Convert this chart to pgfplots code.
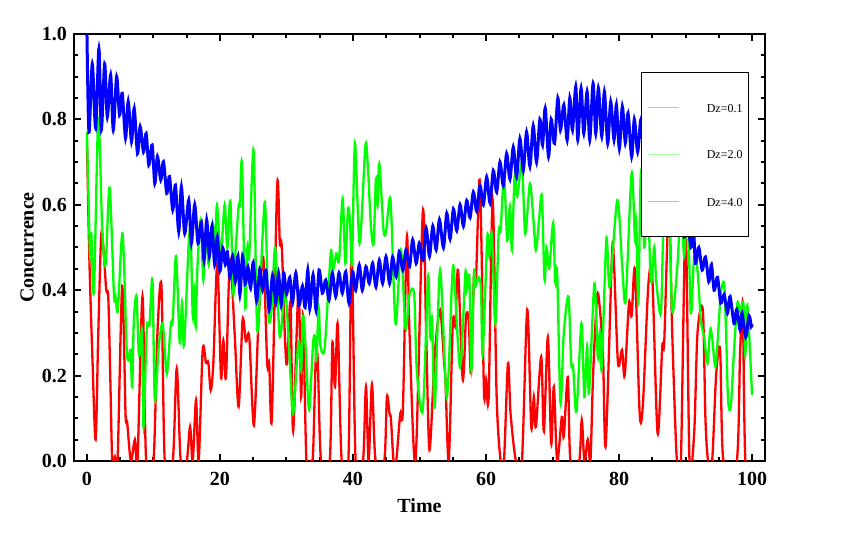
\documentclass[border=0pt]{standalone}
\usepackage{fontspec}
\setmainfont{Liberation Serif}
\usepackage{pgfplots}
\pgfplotsset{compat=1.18}

\begin{document}
\begin{tikzpicture}
% page size of the reference, 1px = 0.5pt, plot box lower left at origin
\path[use as bounding box] (-37pt,-36.5pt) rectangle (389pt,230.5pt);
\begin{axis}[
    at={(0pt,0pt)}, anchor=south west,
    scale only axis, width=345.5pt, height=213.5pt,
    xmin=-1.95, xmax=101.95, ymin=0, ymax=1,
    xtick={0,20,40,60,80,100},
    ytick={0,0.2,0.4,0.6,0.8,1.0},
    yticklabels={0.0,0.2,0.4,0.6,0.8,1.0},
    minor x tick num=3, minor y tick num=3,
    tick align=inside,
    major tick length=3.5pt, minor tick length=2.2pt,
    every tick/.style={black, line width=1pt},
    axis line style={line width=1.2pt},
    /pgf/number format/assume math mode=true,
    tick label style={font=\fontsize{10}{12}\selectfont\bfseries},
    xticklabel style={yshift=-2.2pt},
    xlabel={\textbf{Time}}, ylabel={\textbf{Concurrence}},
    label style={font=\fontsize{10}{12}\selectfont},
    xlabel style={at={(axis description cs:0.5,-0.1054)}, anchor=center},
    ylabel style={at={(axis description cs:-0.068,0.5)}, anchor=center},
    legend style={at={(0.8205,0.911)}, anchor=north west,
        draw=black, line width=0.6pt, fill=white,
        font=\fontsize{6}{7}\selectfont,
        inner xsep=3pt, inner ysep=15.3pt, row sep=19.1pt,
        /tikz/every odd column/.append style={column sep=13.5pt},
        nodes={inner sep=0pt, text height=4.4pt, text depth=0pt}},
    legend cell align=left,
    legend image code/.code={\draw[#1] (0pt,0pt) -- (15.5pt,0pt);},
]
\addplot[red, line width=1.15pt, smooth, tension=0.5,
    legend image post style={red!35, line width=0.6pt}] coordinates {
(0,0.75)(0.35,0.48)(0.8,0.25)(1.3,0.05)(1.7,0.30)(2.16,0.533)(2.6,0.47)(2.9,0.40)(3.2,0.385)(3.5,0.2)
(3.8,0.0)(4.2,0.01)(4.6,0.0)(5.3,0.41)(5.8,0.11)(6.05,0.09)(6.6,0.0)(7.2,0.05)(7.6,0.0)(8.35,0.385)
(8.9,0.0)(10.0,0.0)(10.6,0.30)(11.2,0.41)(11.7,0.0)(12.9,0.0)(13.5,0.217)(14.1,0.0)(15.0,0.0)(15.5,0.08)
(15.9,0.0)(16.4,0.143)(16.8,0.0)(17.4,0.26)(17.9,0.23)(18.25,0.23)(18.6,0.166)(19.0,0.229)(19.6,0.463)(20.15,0.197)
(20.5,0.283)(20.9,0.197)(21.5,0.47)(22.2,0.30)(22.8,0.127)(23.4,0.33)(23.9,0.28)(24.4,0.29)(25.1,0.084)(25.8,0.33)
(26.5,0.478)(27.1,0.229)(27.4,0.229)(27.8,0.10)(28.6,0.646)(29.0,0.51)(29.3,0.50)(29.8,0.276)(30.1,0.23)(30.6,0.37)
(31.0,0.07)(31.8,0.40)(32.2,0.15)(32.5,0.34)(33.0,0.0)(33.7,0.0)(34.0,0.02)(34.4,0.237)(34.7,0.237)(35.2,0.0)
(36.5,0.0)(36.9,0.276)(37.3,0.174)(37.7,0.32)(38.3,0.0)(39.3,0.0)(39.8,0.494)(40.4,0.0)(41.5,0.0)(41.95,0.174)
(42.35,0.0)(42.85,0.18)(43.4,0.0)(44.7,0.0)(45.1,0.15)(45.5,0.11)(45.7,0.10)(46.1,0.0)(46.5,0.0)(47.1,0.11)
(47.5,0.12)(48.1,0.525)(48.5,0.30)(49.4,0.0)(50.5,0.584)(51.0,0.30)(51.5,0.026)(52.3,0.25)(53.1,0.354)(53.7,0.229)
(53.9,0.19)(54.4,0.0)(55.0,0.32)(55.4,0.32)(55.8,0.447)(56.5,0.19)(57.0,0.338)(57.4,0.33)(57.75,0.205)(58.2,0.44)
(58.5,0.43)(59.0,0.658)(59.3,0.52)(59.7,0.158)(60.0,0.19)(60.4,0.15)(61.0,0.611)(61.6,0.15)(62.2,0.0)(62.7,0.0)
(63.3,0.229)(63.7,0.11)(64.5,0.0)(65.4,0.0)(66.2,0.354)(66.8,0.08)(67.2,0.15)(67.5,0.08)(68.3,0.244)(68.7,0.07)
(69.3,0.29)(69.8,0.04)(70.2,0.174)(70.7,0.0)(71.4,0.103)(71.7,0.057)(72.3,0.197)(72.7,0.0)(74.0,0.0)(74.4,0.096)
(74.8,0.0)(75.3,0.05)(75.7,0.0)(76.1,0.2)(76.7,0.385)(77.1,0.36)(77.6,0.244)(78.0,0.037)(78.95,0.486)(79.25,0.46)
(79.85,0.229)(80.45,0.26)(80.85,0.2)(81.5,0.37)(81.9,0.34)(82.4,0.447)(83.1,0.112)(83.6,0.135)(84.4,0.41)(85.0,0.43)
(85.8,0.065)(86.5,0.268)(86.8,0.28)(87.5,0.60)(88.0,0.3)(88.7,0.0)(89.3,0.0)(90.0,0.55)(90.6,0.0)(91.3,0.065)
(91.8,0.30)(92.6,0.354)(93.0,0.096)(93.4,0.0)(94.0,0.0)(94.6,0.2)(95.2,0.26)(95.7,0.0)(97.7,0.0)(98.2,0.25)
(98.6,0.365)(99.0,0.0)(100,0.0)
};
\addlegendentry{Dz=0.1}
\addplot[green, line width=1.15pt, smooth, tension=0.5,
    legend image post style={green!35, line width=0.6pt}] coordinates {
(0,0.77)(0.45,0.486)(0.65,0.533)(1.05,0.397)(1.7,0.80)(2.3,0.54)(2.8,0.46)(3.4,0.64)(4.06,0.39)(4.3,0.385)
(4.65,0.354)(5.35,0.533)(5.96,0.268)(6.3,0.236)(6.55,0.26)(6.8,0.174)(7.05,0.33)(7.45,0.385)(7.8,0.25)(8.1,0.276)
(8.3,0.30)(8.5,0.08)(9.0,0.31)(9.4,0.32)(9.85,0.424)(10.2,0.143)(10.8,0.27)(11.4,0.32)(12.0,0.205)(12.6,0.32)
(12.9,0.33)(13.4,0.48)(13.95,0.276)(14.3,0.37)(14.6,0.27)(15.3,0.51)(15.6,0.53)(15.9,0.34)(16.1,0.40)(16.35,0.315)
(16.6,0.45)(17.1,0.565)(17.5,0.424)(17.9,0.54)(18.3,0.46)(18.9,0.557)(19.2,0.48)(19.55,0.60)(20.1,0.48)(20.7,0.60)
(21.1,0.50)(21.55,0.61)(22.0,0.393)(22.25,0.47)(22.8,0.596)(23.0,0.60)(23.3,0.697)(23.8,0.361)(24.1,0.50)(24.4,0.48)
(25.05,0.728)(25.6,0.307)(26.4,0.525)(26.8,0.60)(27.3,0.338)(27.8,0.36)(28.3,0.50)(29.0,0.29)(29.8,0.40)(30.5,0.229)
(31.0,0.11)(31.8,0.28)(32.2,0.21)(32.5,0.34)(32.9,0.26)(33.4,0.12)(34.0,0.276)(34.3,0.29)(34.5,0.237)(34.85,0.36)
(35.1,0.27)(35.7,0.26)(36.3,0.40)(36.7,0.494)(37.0,0.447)(37.5,0.486)(37.9,0.47)(38.45,0.615)(38.85,0.463)(39.25,0.59)
(39.55,0.56)(39.85,0.463)(40.3,0.744)(41.0,0.51)(41.85,0.736)(42.2,0.70)(42.7,0.549)(43.1,0.51)(43.45,0.662)(43.7,0.60)
(43.96,0.697)(44.6,0.54)(45.0,0.54)(45.65,0.61)(46.4,0.322)(47.2,0.494)(47.9,0.31)(48.5,0.39)(49.2,0.39)(49.6,0.21)
(50.5,0.12)(51.3,0.432)(51.6,0.29)(51.9,0.33)(52.3,0.127)(53.1,0.447)(54.1,0.15)(54.9,0.424)(55.2,0.44)(56.1,0.22)
(56.9,0.44)(57.1,0.40)(57.5,0.43)(57.8,0.213)(58.2,0.44)(58.45,0.41)(58.9,0.43)(59.25,0.40)(59.5,0.25)(60.2,0.525)
(60.5,0.48)(60.9,0.53)(61.4,0.322)(61.9,0.533)(62.2,0.54)(62.7,0.666)(63.2,0.517)(63.6,0.596)(63.9,0.494)(64.3,0.666)
(64.7,0.62)(65.4,0.697)(65.9,0.533)(66.6,0.65)(67.1,0.57)(67.5,0.494)(68.0,0.57)(68.4,0.619)(68.8,0.424)(69.1,0.50)
(69.5,0.45)(70.1,0.557)(70.4,0.42)(70.7,0.44)(71.2,0.135)(71.7,0.30)(72.4,0.385)(72.8,0.23)(73.1,0.22)(73.6,0.115)
(74.35,0.322)(74.8,0.15)(75.2,0.27)(75.5,0.16)(76.3,0.416)(76.8,0.244)(77.1,0.30)(77.4,0.22)(78.1,0.52)(78.6,0.408)
(79.75,0.611)(80.5,0.45)(81.0,0.377)(81.9,0.674)(82.4,0.517)(82.6,0.56)(82.9,0.37)(83.3,0.68)(83.8,0.50)(84.3,0.62)
(84.8,0.42)(85.3,0.50)(85.6,0.42)(86.3,0.346)(86.7,0.55)(87.5,0.60)(88.0,0.35)(88.8,0.463)(89.3,0.60)(89.8,0.48)
(90.3,0.60)(90.8,0.346)(91.3,0.478)(91.8,0.447)(92.3,0.33)(92.8,0.29)(93.3,0.229)(93.7,0.307)(94.0,0.29)(94.5,0.221)
(95.0,0.322)(95.3,0.393)(95.8,0.416)(96.1,0.30)(96.4,0.143)(96.8,0.127)(97.3,0.26)(97.8,0.37)(98.2,0.35)(98.7,0.37)
(99.0,0.25)(99.3,0.365)(100,0.155)
};
\addlegendentry{Dz=2.0}
\addplot[blue, line width=1.5pt, smooth, tension=0.5,
    legend image post style={blue!30, line width=0.6pt}] coordinates {
(0,1.0)(0.3,0.77)(0.8,0.93)(1.3,0.78)(1.8,0.966)(2.16,0.775)(2.66,0.93)(3.06,0.806)(3.56,0.904)(3.96,0.775)
(4.46,0.90)(4.9,0.81)(5.3,0.861)(5.8,0.756)(6.2,0.842)(6.7,0.748)(7.1,0.826)(7.6,0.72)(8.0,0.783)(8.5,0.724)
(8.9,0.767)(9.3,0.693)(9.8,0.74)(10.2,0.65)(10.6,0.713)(11.1,0.658)(11.5,0.701)(12.0,0.627)(12.4,0.666)(12.9,0.588)
(13.3,0.646)(13.8,0.537)(14.2,0.642)(14.7,0.533)(15.3,0.611)(15.7,0.51)(16.2,0.60)(16.7,0.51)(17.2,0.56)(17.6,0.47)
(18.0,0.565)(18.4,0.48)(18.8,0.55)(19.2,0.46)(19.6,0.525)(20.0,0.445)(20.4,0.50)(20.8,0.46)(21.1,0.49)(21.5,0.43)
(21.9,0.48)(22.3,0.42)(22.7,0.48)(23.0,0.39)(23.4,0.48)(23.8,0.415)(24.2,0.455)(24.6,0.405)(25.0,0.465)(25.5,0.375)
(26.0,0.45)(26.4,0.40)(26.9,0.447)(27.4,0.355)(27.9,0.435)(28.4,0.37)(28.8,0.44)(29.2,0.365)(29.6,0.44)(30.0,0.39)
(30.5,0.43)(30.9,0.37)(31.4,0.44)(31.9,0.365)(32.4,0.41)(32.8,0.36)(33.2,0.447)(33.5,0.357)(34.0,0.436)(34.45,0.353)
(34.9,0.447)(35.4,0.393)(35.9,0.424)(36.4,0.377)(36.9,0.44)(37.4,0.385)(37.9,0.44)(38.4,0.393)(38.9,0.443)(39.4,0.37)
(39.95,0.443)(40.4,0.40)(40.95,0.459)(41.4,0.40)(41.95,0.455)(42.45,0.416)(42.95,0.463)(43.45,0.408)(43.96,0.47)(44.45,0.416)
(44.96,0.478)(45.5,0.416)(45.96,0.478)(46.5,0.432)(46.96,0.49)(47.5,0.447)(47.96,0.494)(48.5,0.455)(48.97,0.518)(49.5,0.463)
(49.97,0.51)(50.5,0.47)(51.0,0.545)(51.5,0.48)(52.0,0.55)(52.5,0.495)(53.0,0.565)(53.6,0.50)(54.1,0.58)(54.6,0.52)
(55.1,0.59)(55.6,0.54)(56.1,0.60)(56.6,0.55)(57.1,0.61)(57.6,0.57)(58.1,0.63)(58.6,0.585)(59.1,0.645)(59.6,0.60)
(60.1,0.665)(60.6,0.605)(61.1,0.68)(61.6,0.63)(62.1,0.70)(62.6,0.645)(63.1,0.72)(63.6,0.66)(64.1,0.735)(64.6,0.665)
(65.1,0.755)(65.6,0.68)(66.1,0.77)(66.6,0.69)(67.1,0.785)(67.6,0.70)(68.1,0.80)(68.5,0.74)(68.9,0.826)(69.4,0.713)
(69.8,0.80)(70.3,0.744)(70.8,0.85)(71.2,0.775)(71.7,0.834)(72.2,0.752)(72.6,0.85)(73.0,0.775)(73.5,0.877)(73.8,0.752)
(74.3,0.873)(74.7,0.767)(75.2,0.865)(75.6,0.752)(76.1,0.884)(76.5,0.767)(76.9,0.873)(77.4,0.76)(77.8,0.865)(78.3,0.744)
(78.75,0.841)(79.25,0.752)(79.6,0.834)(80.05,0.732)(80.5,0.83)(80.95,0.745)(81.35,0.814)(81.9,0.713)(82.3,0.80)(82.8,0.724)
(83.3,0.80)(83.8,0.70)(84.3,0.77)(84.8,0.67)(85.3,0.74)(85.8,0.64)(86.3,0.70)(86.8,0.61)(87.3,0.67)(87.8,0.58)
(88.3,0.64)(88.8,0.55)(89.3,0.61)(89.8,0.525)(90.3,0.57)(90.8,0.50)(91.2,0.54)(91.5,0.463)(92.0,0.50)(92.5,0.447)
(93.0,0.478)(93.5,0.42)(93.9,0.46)(94.3,0.40)(94.8,0.43)(95.3,0.37)(95.8,0.39)(96.3,0.346)(96.7,0.385)(97.3,0.322)
(97.7,0.355)(98.2,0.307)(98.5,0.346)(99.05,0.29)(99.55,0.34)(99.9,0.315)(100,0.32)
};
\addlegendentry{Dz=4.0}
\end{axis}
\end{tikzpicture}
\end{document}
